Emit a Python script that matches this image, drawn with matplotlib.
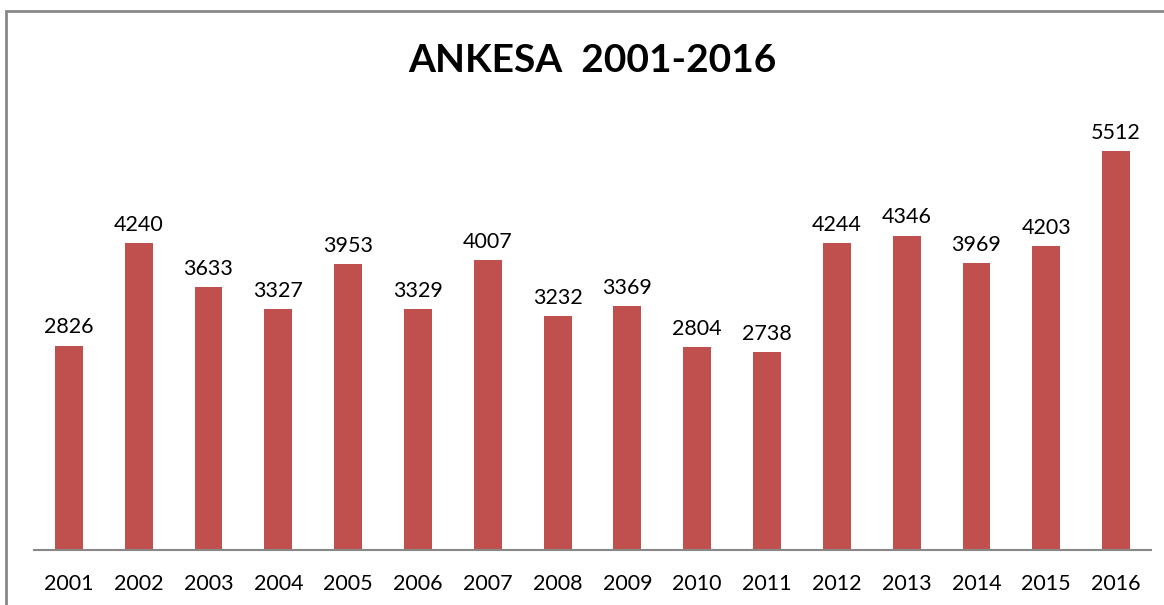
import matplotlib
matplotlib.use("Agg")
import matplotlib.pyplot as plt
from matplotlib.patches import Rectangle

# data
years = ["2001", "2002", "2003", "2004", "2005", "2006", "2007", "2008",
         "2009", "2010", "2011", "2012", "2013", "2014", "2015", "2016"]
counts = [2826, 4240, 3633, 3327, 3953, 3329, 4007, 3232,
          3369, 2804, 2738, 4244, 4346, 3969, 4203, 5512]

plt.rcParams['font.family'] = ['Lato', 'DejaVu Sans']

fig = plt.figure(figsize=(11.64, 6.05), dpi=100)
ax = fig.add_axes([34/1164, 55/605, (1151-34)/1164, (550-116)/605])

x = list(range(len(years)))
bars = ax.bar(x, counts, width=0.4, color="#C0504D")

for xi, v in zip(x, counts):
    ax.annotate(str(v), (xi, v), xytext=(0, 6), textcoords="offset points",
                ha="center", va="bottom", fontsize=15.5)

ax.set_xlim(-0.5, len(years) - 0.5)
ax.set_ylim(0, 6000)
ax.set_xticks(x)
ax.set_xticklabels(years, fontsize=15.5)
ax.tick_params(axis="x", length=0, pad=17)
ax.set_yticks([])
for s in ["top", "right", "left"]:
    ax.spines[s].set_visible(False)
ax.spines["bottom"].set_color("#888888")
ax.spines["bottom"].set_linewidth(1.5)

fig.text(592/1164, 1 - 60/605, "ANKESA  2001-2016", ha="center", va="center",
         fontsize=28, fontweight="bold")

# outer border (runs off the right and bottom edges)
fig.patches.append(Rectangle((6/1164, -0.1), 1.2, 1 - 11/605 + 0.1,
                             transform=fig.transFigure, fill=False,
                             edgecolor="#888888", linewidth=2))

fig.savefig("out.png", dpi=100)
